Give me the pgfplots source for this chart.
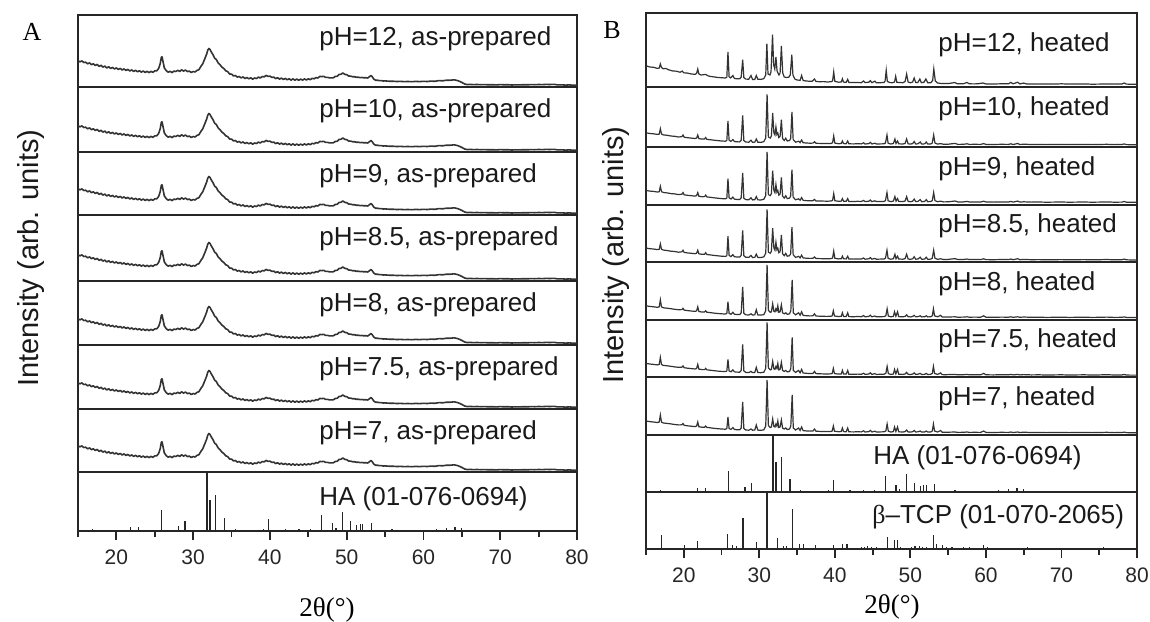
\documentclass[border=0pt]{standalone}
\usepackage{fontspec}
\setmainfont{Liberation Sans}
\newfontfamily\serif{Liberation Serif}
\usepackage{pgfplots}
\usepackage{pgfplotstable}
\pgfplotsset{compat=1.18}

% ---------- Panel A: as-prepared pattern (intensity in px above row bottom)
\pgfplotstableread[row sep=\\]{x y\\
15.00 26.3\\ 15.25 25.2\\ 15.50 26.1\\ 15.75 24.5\\ 16.00 24.8\\ 16.25 23.2\\ 16.50 24.1\\ 16.75 22.3\\
17.00 23.2\\ 17.25 21.5\\ 17.50 22.6\\ 17.75 20.6\\ 18.00 21.7\\ 18.25 19.9\\ 18.50 20.9\\ 18.75 19.1\\
19.00 20.2\\ 19.25 18.6\\ 19.50 19.6\\ 19.75 18.0\\ 20.00 19.1\\ 20.25 17.5\\ 20.50 18.6\\ 20.75 17.0\\
21.00 18.1\\ 21.25 16.6\\ 21.50 17.6\\ 21.75 16.0\\ 22.00 17.1\\ 22.25 15.6\\ 22.50 16.7\\ 22.75 15.2\\
23.00 16.3\\ 23.25 14.9\\ 23.50 16.0\\ 23.75 14.5\\ 24.00 15.7\\ 24.25 14.4\\ 24.50 15.6\\ 24.75 14.7\\
25.00 16.1\\ 25.25 16.1\\ 25.50 18.5\\ 25.70 23.0\\ 25.85 29.5\\ 25.95 30.2\\ 26.10 24.5\\ 26.25 19.0\\
26.50 16.3\\ 26.75 14.8\\ 27.00 15.7\\ 27.25 14.4\\ 27.50 15.9\\ 27.75 15.5\\ 28.00 16.7\\ 28.25 15.6\\
28.50 17.2\\ 28.75 15.9\\ 29.00 17.0\\ 29.25 15.4\\ 29.50 15.9\\ 29.75 14.5\\ 30.00 15.5\\ 30.25 15.0\\
30.50 16.6\\ 30.75 17.3\\ 31.00 20.5\\ 31.25 23.2\\ 31.50 27.9\\ 31.75 32.7\\ 31.90 36.8\\ 32.05 38.5\\
32.20 37.5\\ 32.40 34.6\\ 32.60 32.1\\ 32.80 28.8\\ 33.00 27.7\\ 33.25 24.2\\ 33.50 22.3\\ 33.75 19.9\\
34.00 18.5\\ 34.25 16.2\\ 34.50 15.4\\ 34.75 13.0\\ 35.00 12.9\\ 35.25 11.1\\ 35.50 11.5\\ 35.75 9.9\\
36.00 10.5\\ 36.25 9.1\\ 36.50 10.1\\ 36.75 8.5\\ 37.00 9.5\\ 37.25 8.2\\ 37.50 9.2\\ 37.75 7.8\\
38.00 9.0\\ 38.25 8.5\\ 38.50 9.9\\ 38.75 9.0\\ 39.00 10.5\\ 39.25 10.1\\ 39.50 11.6\\ 39.75 10.6\\
40.00 10.9\\ 40.25 9.6\\ 40.50 9.9\\ 40.75 8.4\\ 41.00 9.3\\ 41.25 7.9\\ 41.50 8.9\\ 41.75 7.5\\
42.00 8.6\\ 42.25 7.2\\ 42.50 8.3\\ 42.75 6.9\\ 43.00 8.1\\ 43.25 6.8\\ 43.50 8.0\\ 43.75 6.7\\
44.00 7.9\\ 44.25 6.9\\ 44.50 8.1\\ 44.75 7.0\\ 45.00 8.2\\ 45.25 7.3\\ 45.50 8.7\\ 45.75 8.2\\
46.00 9.4\\ 46.25 9.0\\ 46.50 10.6\\ 46.75 10.4\\ 47.00 10.7\\ 47.25 9.6\\ 47.50 9.7\\ 47.75 9.1\\
48.00 9.2\\ 48.25 9.2\\ 48.50 10.5\\ 48.75 10.7\\ 49.00 12.5\\ 49.25 12.7\\ 49.50 14.1\\ 49.75 12.6\\
50.00 12.4\\ 50.25 11.0\\ 50.50 10.9\\ 50.75 10.3\\ 51.00 10.3\\ 51.25 9.8\\ 51.50 9.8\\ 51.75 9.4\\
52.00 9.5\\ 52.25 9.2\\ 52.50 9.3\\ 52.75 9.0\\ 53.00 10.5\\ 53.15 11.4\\ 53.30 10.6\\ 53.50 8.2\\
53.75 6.8\\ 54.00 6.8\\ 54.25 6.4\\ 54.50 6.4\\ 54.75 6.0\\ 55.00 6.1\\ 55.50 5.8\\ 56.00 5.8\\
56.50 5.5\\ 57.00 5.6\\ 57.50 5.4\\ 58.00 5.5\\ 58.50 5.3\\ 59.00 5.6\\ 59.50 5.4\\ 60.00 5.7\\
60.50 5.5\\ 61.00 5.9\\ 61.50 5.7\\ 62.00 6.4\\ 62.50 6.2\\ 63.00 6.8\\ 63.50 6.8\\ 64.00 7.2\\
64.50 6.3\\ 65.00 4.6\\ 65.40 2.9\\ 65.75 2.4\\ 66.00 2.6\\ 66.50 2.4\\ 67.00 2.5\\ 67.50 2.3\\
68.00 2.4\\ 68.50 2.2\\ 69.00 2.3\\ 69.50 2.1\\ 70.00 2.4\\ 70.50 2.2\\ 71.00 2.3\\ 71.50 2.0\\
72.00 2.2\\ 72.50 2.1\\ 73.00 2.3\\ 73.50 2.2\\ 74.00 2.4\\ 74.50 2.3\\ 75.00 2.5\\ 75.50 2.4\\
76.00 2.6\\ 76.50 2.5\\ 77.00 2.7\\ 77.50 2.1\\ 78.00 2.2\\ 78.50 1.9\\ 79.00 2.1\\ 79.50 1.8\\ 80.00 1.9\\
}\tabA

% ---------- Panel B: pH=12 heated
\pgfplotstableread[row sep=\\]{x y\\
15.0 21.2\\ 15.5 20.0\\ 16.0 19.7\\ 16.5 18.6\\ 16.75 19.0\\ 16.9 23.0\\ 17.05 19.5\\ 17.3 18.2\\
17.6 18.6\\ 18.0 17.2\\ 18.5 16.1\\ 19.0 15.8\\ 19.5 14.8\\ 19.8 15.9\\ 20.0 14.2\\ 20.5 13.9\\
21.0 13.0\\ 21.5 12.7\\ 21.7 13.6\\ 21.85 18.0\\ 22.0 13.0\\ 22.3 12.0\\ 22.9 12.6\\ 23.2 11.2\\
23.5 10.6\\ 24.0 10.1\\ 24.5 9.5\\ 25.0 9.3\\ 25.5 9.0\\ 25.7 9.8\\ 25.85 35.0\\ 26.0 10.2\\
26.2 9.1\\ 26.5 11.5\\ 26.7 8.6\\ 27.0 8.2\\ 27.4 8.2\\ 27.6 10.0\\ 27.8 27.3\\ 27.95 9.5\\
28.2 7.9\\ 28.6 7.8\\ 28.9 11.5\\ 29.1 7.6\\ 29.4 7.6\\ 29.6 11.5\\ 29.8 7.8\\ 30.2 7.6\\
30.6 8.4\\ 30.85 12.0\\ 31.0 43.3\\ 31.15 13.0\\ 31.4 12.0\\ 31.55 15.0\\ 31.75 52.3\\ 31.9 22.0\\
32.05 18.0\\ 32.2 30.0\\ 32.35 16.0\\ 32.6 12.0\\ 32.75 14.0\\ 32.92 41.0\\ 33.1 14.0\\ 33.3 10.0\\
33.6 9.5\\ 33.9 9.8\\ 34.1 12.0\\ 34.3 32.3\\ 34.45 12.0\\ 34.7 8.0\\ 35.0 7.0\\ 35.4 6.7\\
35.6 11.5\\ 35.8 6.5\\ 36.2 6.0\\ 36.6 5.8\\ 37.0 5.7\\ 37.3 8.0\\ 37.5 5.5\\ 38.0 5.3\\
38.5 5.4\\ 39.0 5.0\\ 39.5 5.3\\ 39.7 6.0\\ 39.85 15.0\\ 40.0 5.6\\ 40.5 4.8\\ 40.85 5.0\\
41.0 8.2\\ 41.15 4.9\\ 41.5 4.7\\ 41.7 7.6\\ 41.85 4.6\\ 42.5 4.4\\ 43.0 4.5\\ 43.5 4.3\\
43.8 6.0\\ 44.0 4.4\\ 44.5 4.8\\ 44.7 6.3\\ 44.9 4.3\\ 45.3 5.8\\ 45.5 4.2\\ 46.0 4.3\\
46.5 4.5\\ 46.65 6.0\\ 46.8 16.7\\ 46.95 5.5\\ 47.3 4.4\\ 47.6 4.3\\ 47.9 5.0\\ 48.05 10.7\\
48.2 4.8\\ 48.5 4.5\\ 49.0 4.3\\ 49.3 5.5\\ 49.5 13.0\\ 49.7 5.0\\ 50.0 4.2\\ 50.3 5.0\\
50.5 9.0\\ 50.7 4.5\\ 51.0 4.6\\ 51.25 8.0\\ 51.45 4.3\\ 51.8 4.8\\ 52.05 8.0\\ 52.3 4.2\\
52.7 4.3\\ 52.95 6.5\\ 53.1 18.0\\ 53.3 6.0\\ 53.6 4.0\\ 54.0 3.6\\ 54.5 3.5\\ 55.0 3.4\\
55.9 4.5\\ 56.2 3.2\\ 57.0 3.3\\ 57.5 4.5\\ 57.8 3.2\\ 58.5 3.1\\ 59.0 3.3\\ 59.6 4.0\\
60.0 3.1\\ 61.0 3.0\\ 62.0 3.2\\ 63.0 3.3\\ 63.3 4.6\\ 63.6 3.2\\ 64.2 4.8\\ 64.5 3.1\\
65.0 3.9\\ 65.4 3.0\\ 66.0 3.1\\ 67.0 2.9\\ 68.0 3.0\\ 69.0 2.9\\ 70.0 3.2\\ 71.0 2.9\\
72.0 3.0\\ 73.0 3.1\\ 74.0 2.8\\ 75.0 2.9\\ 76.0 3.1\\ 77.0 2.9\\ 78.0 3.0\\ 78.3 4.0\\
78.6 2.9\\ 79.0 2.8\\ 80.0 2.7\\
}\tabBa

% ---------- Panel B: pH=10 / 9 / 8.5 heated
\pgfplotstableread[row sep=\\]{x y\\
15.0 14.2\\ 15.5 13.5\\ 16.0 13.2\\ 16.5 12.6\\ 16.75 12.9\\ 16.9 18.3\\ 17.05 13.0\\ 17.3 12.1\\
17.8 11.7\\ 18.3 11.0\\ 18.8 10.7\\ 19.3 10.0\\ 19.75 10.4\\ 19.9 12.0\\ 20.05 9.8\\ 20.5 9.3\\
21.0 8.9\\ 21.5 8.5\\ 21.7 9.0\\ 21.85 12.0\\ 22.0 8.4\\ 22.4 7.9\\ 22.75 8.0\\ 22.9 9.5\\
23.05 7.7\\ 23.5 7.3\\ 24.0 6.8\\ 24.5 6.4\\ 25.0 6.0\\ 25.5 5.8\\ 25.7 6.5\\ 25.85 26.0\\
26.0 6.8\\ 26.25 5.6\\ 26.5 7.5\\ 26.7 5.5\\ 27.0 5.2\\ 27.4 5.1\\ 27.6 6.8\\ 27.8 31.7\\
27.95 6.5\\ 28.2 5.0\\ 28.6 4.8\\ 28.9 6.8\\ 29.1 4.7\\ 29.4 4.9\\ 29.6 8.0\\ 29.8 4.8\\
30.2 4.6\\ 30.6 5.4\\ 30.85 9.0\\ 31.03 52.7\\ 31.2 10.0\\ 31.45 9.0\\ 31.6 11.0\\ 31.77 34.0\\
31.93 14.0\\ 32.07 12.0\\ 32.2 20.0\\ 32.33 12.5\\ 32.45 14.0\\ 32.58 9.5\\ 32.75 10.5\\ 32.92 27.3\\
33.08 8.5\\ 33.3 6.5\\ 33.5 8.8\\ 33.7 6.0\\ 34.0 6.5\\ 34.15 8.5\\ 34.32 35.0\\ 34.48 7.5\\
34.8 4.8\\ 35.2 5.8\\ 35.4 4.4\\ 35.6 7.0\\ 35.8 4.3\\ 36.2 4.0\\ 36.7 3.8\\ 37.1 3.9\\
37.3 5.2\\ 37.5 3.7\\ 38.0 3.6\\ 38.5 3.5\\ 39.0 3.4\\ 39.5 3.6\\ 39.7 4.2\\ 39.85 11.0\\
40.0 3.9\\ 40.5 3.3\\ 40.85 3.5\\ 41.0 6.0\\ 41.15 3.4\\ 41.5 3.3\\ 41.7 6.0\\ 41.85 3.2\\
42.5 3.1\\ 43.0 3.3\\ 43.5 3.1\\ 43.8 4.2\\ 44.0 3.0\\ 44.5 3.4\\ 44.7 4.6\\ 44.9 3.0\\
45.3 3.8\\ 45.5 3.0\\ 46.0 3.1\\ 46.5 3.2\\ 46.7 4.0\\ 46.9 12.0\\ 47.05 3.8\\ 47.4 3.0\\
47.75 3.5\\ 47.95 8.0\\ 48.1 3.5\\ 48.3 6.0\\ 48.45 3.2\\ 49.0 3.0\\ 49.3 3.6\\ 49.5 8.0\\
49.7 3.2\\ 50.0 2.9\\ 50.3 3.4\\ 50.5 5.5\\ 50.7 3.0\\ 51.0 3.2\\ 51.3 5.0\\ 51.5 2.9\\
51.9 3.2\\ 52.1 5.0\\ 52.3 2.9\\ 52.7 3.1\\ 52.9 4.0\\ 53.08 12.0\\ 53.25 4.0\\ 53.6 2.9\\
54.0 3.4\\ 54.4 2.7\\ 55.0 2.8\\ 55.9 3.6\\ 56.3 2.6\\ 57.0 2.7\\ 57.5 3.2\\ 57.8 2.6\\
58.5 2.7\\ 59.3 2.6\\ 59.7 3.4\\ 60.0 2.6\\ 61.0 2.5\\ 62.0 2.7\\ 63.0 2.6\\ 63.3 3.2\\
63.6 2.5\\ 64.2 3.5\\ 64.5 2.5\\ 65.0 2.8\\ 66.0 2.5\\ 67.0 2.6\\ 68.0 2.4\\ 69.0 2.5\\
70.0 2.6\\ 71.0 2.4\\ 72.0 2.5\\ 73.0 2.6\\ 74.0 2.4\\ 75.0 2.5\\ 76.0 2.7\\ 77.0 2.4\\
78.0 2.5\\ 78.3 3.1\\ 78.6 2.4\\ 79.0 2.3\\ 80.0 2.3\\
}\tabBb

% ---------- Panel B: pH=8 / 7.5 / 7 heated
\pgfplotstableread[row sep=\\]{x y\\
15.0 14.0\\ 15.5 13.4\\ 16.0 13.0\\ 16.5 12.5\\ 16.75 13.0\\ 16.9 20.0\\ 17.05 12.9\\ 17.3 12.0\\
17.8 11.6\\ 18.3 11.1\\ 18.8 10.5\\ 19.3 10.1\\ 19.75 10.2\\ 19.9 11.5\\ 20.05 9.7\\ 20.5 9.2\\
21.0 8.8\\ 21.5 8.4\\ 21.7 9.0\\ 21.85 13.0\\ 22.0 8.3\\ 22.4 7.8\\ 22.75 7.8\\ 22.9 9.0\\
23.05 7.6\\ 23.5 7.2\\ 24.0 6.7\\ 24.5 6.3\\ 25.0 6.0\\ 25.5 5.8\\ 25.7 6.4\\ 25.85 18.0\\
26.0 6.5\\ 26.25 5.6\\ 26.5 7.5\\ 26.7 5.6\\ 27.0 5.3\\ 27.4 5.2\\ 27.6 7.0\\ 27.8 33.0\\
27.95 6.6\\ 28.2 5.0\\ 28.6 4.8\\ 28.9 6.0\\ 29.1 4.8\\ 29.4 5.0\\ 29.6 10.0\\ 29.8 4.9\\
30.2 4.7\\ 30.6 5.2\\ 30.85 9.0\\ 31.03 55.0\\ 31.2 9.5\\ 31.45 7.5\\ 31.6 8.0\\ 31.77 16.0\\
31.93 8.5\\ 32.07 8.0\\ 32.2 11.0\\ 32.33 9.0\\ 32.45 14.0\\ 32.58 7.5\\ 32.75 8.0\\ 32.92 15.0\\
33.08 7.0\\ 33.3 6.0\\ 33.5 7.0\\ 33.7 5.5\\ 34.0 6.0\\ 34.17 9.0\\ 34.35 40.0\\ 34.5 7.0\\
34.8 5.0\\ 35.2 7.0\\ 35.4 4.6\\ 35.6 8.0\\ 35.8 4.4\\ 36.2 4.1\\ 36.7 3.9\\ 37.1 4.0\\
37.3 6.0\\ 37.5 3.8\\ 38.0 3.6\\ 38.5 3.5\\ 39.0 3.4\\ 39.5 3.6\\ 39.65 4.0\\ 39.8 9.0\\
39.95 3.8\\ 40.5 3.3\\ 40.85 3.5\\ 41.0 7.0\\ 41.15 3.4\\ 41.5 3.3\\ 41.7 7.0\\ 41.85 3.2\\
42.5 3.1\\ 43.0 3.3\\ 43.5 3.1\\ 43.8 4.2\\ 44.0 3.0\\ 44.5 3.4\\ 44.7 4.6\\ 44.9 3.0\\
45.3 3.8\\ 45.5 3.0\\ 46.0 3.1\\ 46.5 3.2\\ 46.75 4.0\\ 46.92 11.0\\ 47.08 3.8\\ 47.4 3.0\\
47.75 3.4\\ 47.9 8.0\\ 48.08 3.6\\ 48.3 8.0\\ 48.45 3.2\\ 49.0 3.0\\ 49.3 3.4\\ 49.5 5.0\\
49.7 3.1\\ 50.0 2.9\\ 50.3 3.3\\ 50.5 4.5\\ 50.7 3.0\\ 51.0 3.2\\ 51.3 4.0\\ 51.5 2.9\\
51.9 3.1\\ 52.1 4.0\\ 52.3 2.9\\ 52.7 3.1\\ 52.9 4.0\\ 53.05 11.0\\ 53.2 4.0\\ 53.6 3.0\\
54.0 4.5\\ 54.2 2.8\\ 54.6 2.7\\ 55.0 2.8\\ 55.9 3.0\\ 56.3 2.6\\ 57.0 2.7\\ 57.5 3.0\\
57.8 2.6\\ 58.5 2.7\\ 59.3 2.6\\ 59.7 4.0\\ 60.0 2.6\\ 61.0 2.5\\ 62.0 2.7\\ 63.0 2.6\\
63.3 3.0\\ 63.6 2.5\\ 64.2 3.0\\ 64.5 2.5\\ 65.0 2.8\\ 66.0 2.5\\ 67.0 2.6\\ 68.0 2.4\\
69.0 2.5\\ 70.0 2.6\\ 71.0 2.4\\ 72.0 2.5\\ 73.0 2.6\\ 74.0 2.4\\ 75.0 2.5\\ 76.0 2.7\\
77.0 2.4\\ 78.0 2.5\\ 78.3 2.9\\ 78.6 2.4\\ 79.0 2.3\\ 80.0 2.3\\
}\tabBc

% ---------- Reference sticks: HA (01-076-0694)
\pgfplotstableread[row sep=\\]{x y\\
16.9 2.4\\ 18.8 1.0\\ 21.8 4.0\\ 22.9 4.0\\ 25.4 1.5\\ 25.9 21.3\\ 28.1 5.0\\ 28.95 9.6\\
31.8 59\\ 32.2 31\\ 32.9 36\\ 34.05 13\\ 35.5 2\\ 39.2 2.5\\ 39.8 12\\ 42.0 2.5\\
43.8 2.5\\ 45.3 2\\ 46.7 16.5\\ 48.1 7.6\\ 48.6 3.4\\ 49.5 19\\ 50.5 9.6\\ 51.3 6.2\\
51.75 7\\ 52.1 7\\ 53.2 8\\ 55.9 2.4\\ 57.1 1.4\\ 58.1 1.5\\ 59.0 1.2\\ 60.0 1.5\\
61.7 2.4\\ 63.0 3.4\\ 64.0 4\\ 64.2 4\\ 65.0 3\\ 66.4 1\\ 69.7 1.4\\
}\tabHA

% ---------- Reference sticks: beta-TCP (01-070-2065)
\pgfplotstableread[row sep=\\]{x y\\
17.0 14.6\\ 18.9 1\\ 20.1 4\\ 21.8 8\\ 22.4 1\\ 24.0 1\\ 25.8 15.4\\ 26.4 4.6\\
27.0 3\\ 27.85 32.5\\ 28.6 1\\ 29.65 7.5\\ 30.3 1\\ 31.03 57.5\\ 32.45 11.8\\ 33.2 3.6\\
33.6 3.6\\ 34.4 41\\ 35.3 5\\ 35.8 5\\ 36.3 1.5\\ 37.4 4\\ 38.0 1.5\\ 39.0 1\\
39.8 4.6\\ 40.4 1.5\\ 41.0 5\\ 41.6 5\\ 42.3 1\\ 43.5 2.5\\ 43.9 2\\ 44.3 3\\
44.9 2.5\\ 45.5 2\\ 46.3 1\\ 47.0 12.9\\ 47.9 9\\ 48.3 9\\ 48.7 2\\ 49.4 1.5\\
50.1 2.5\\ 50.6 3\\ 51.2 3.5\\ 51.6 2\\ 52.1 2.5\\ 53.05 14.3\\ 53.5 5\\ 54.2 4\\
54.8 2\\ 55.5 2\\ 56.2 1.5\\ 57.0 2\\ 57.8 2\\ 58.5 1\\ 59.7 4\\ 60.2 2\\
60.8 1.5\\ 61.5 1\\ 62.4 1.5\\ 63.5 1.2\\ 64.5 1.5\\ 65.5 2\\ 66.6 1.5\\ 67.4 1\\
68.6 1.2\\ 69.3 1\\ 70.6 1.5\\ 71.4 1\\ 72.6 1.2\\ 73.6 1.5\\ 74.4 1\\ 75.6 1.8\\
76.5 1.2\\ 77.4 1\\ 78.6 1.3\\ 79.3 1\\
}\tabTCP

\pgfplotsset{
  row/.style={scale only axis, anchor=north west, xmin=15, xmax=80, ymin=0,
    xtick=\empty, ytick=\empty, axis line style={line width=1pt, black!85}},
  rowA/.style={row, width=249.5pt},
  rowB/.style={row, width=245.5pt},
  bottomrow/.style={xtick={20,30,...,80}, minor xtick={15,25,...,75},
    xtick pos=left, tick align=outside, major tick length=4.5pt, minor tick length=3pt,
    tick style={line width=0.9pt, black!85},
    /pgf/number format/assume math mode=true,
    xticklabel style={font=\fontsize{10.5}{12}\selectfont, yshift=-1.5pt, text=black!85}},
  xrdA/.style={black!80, line width=0.8pt, no marks, line join=round},
  xrd/.style={black!80, line width=0.6pt, no marks},
  stick/.style={ycomb, black!85, line width=0.6pt, no marks},
}

\begin{document}
\begin{tikzpicture}
\path[use as bounding box] (0,0) rectangle (575pt,-310.5pt);

% ================= Panel A =================
\begin{axis}[rowA, at={(39pt,-7.5pt)}, height=36pt, ymax=72]
\addplot[xrdA] table {\tabA};
\end{axis}
\begin{axis}[rowA, at={(39pt,-43.5pt)}, height=32.5pt, ymax=65]
\addplot[xrdA] table {\tabA};
\end{axis}
\begin{axis}[rowA, at={(39pt,-76pt)}, height=31.5pt, ymax=63]
\addplot[xrdA] table {\tabA};
\end{axis}
\begin{axis}[rowA, at={(39pt,-107.5pt)}, height=33pt, ymax=66]
\addplot[xrdA] table {\tabA};
\end{axis}
\begin{axis}[rowA, at={(39pt,-140.5pt)}, height=32pt, ymax=64]
\addplot[xrdA] table {\tabA};
\end{axis}
\begin{axis}[rowA, at={(39pt,-172.5pt)}, height=32pt, ymax=64]
\addplot[xrdA] table {\tabA};
\end{axis}
\begin{axis}[rowA, at={(39pt,-204.5pt)}, height=31.5pt, ymax=63]
\addplot[xrdA] table {\tabA};
\end{axis}
\begin{axis}[rowA, bottomrow, at={(39pt,-236pt)}, height=29.5pt, ymax=59]
\addplot[stick] table {\tabHA};
\end{axis}

% ================= Panel B =================
\begin{axis}[rowB, at={(323pt,-6.5pt)}, height=37pt, ymax=74]
\addplot[xrd] table {\tabBa};
\end{axis}
\begin{axis}[rowB, at={(323pt,-43.5pt)}, height=30pt, ymax=60]
\addplot[xrd] table {\tabBb};
\end{axis}
\begin{axis}[rowB, at={(323pt,-73.5pt)}, height=28.8pt, ymax=57.6]
\addplot[xrd] table {\tabBb};
\end{axis}
\begin{axis}[rowB, at={(323pt,-102.3pt)}, height=28.8pt, ymax=57.6]
\addplot[xrd] table {\tabBb};
\end{axis}
\begin{axis}[rowB, at={(323pt,-131.1pt)}, height=28.8pt, ymax=57.6]
\addplot[xrd] table {\tabBc};
\end{axis}
\begin{axis}[rowB, at={(323pt,-159.9pt)}, height=28.8pt, ymax=57.6]
\addplot[xrd] table {\tabBc};
\end{axis}
\begin{axis}[rowB, at={(323pt,-188.7pt)}, height=28.8pt, ymax=57.6]
\addplot[xrd] table {\tabBc};
\end{axis}
\begin{axis}[rowB, at={(323pt,-217.5pt)}, height=28.5pt, ymax=59]
\addplot[stick] table {\tabHA};
\end{axis}
\begin{axis}[rowB, bottomrow, at={(323pt,-246pt)}, height=28.5pt, ymax=59]
\addplot[stick] table {\tabTCP};
\end{axis}

% ================= Labels =================
\begin{scope}[every node/.style={anchor=base west, inner sep=0pt, font=\fontsize{13}{15}\selectfont, text=black!90}]
\node at (159.5pt,-22.5pt) {pH=12, as-prepared};
\node at (159.5pt,-58.5pt) {pH=10, as-prepared};
\node at (159.5pt,-91pt) {pH=9, as-prepared};
\node at (159.5pt,-122.5pt) {pH=8.5, as-prepared};
\node at (159.5pt,-155.5pt) {pH=8, as-prepared};
\node at (159.5pt,-187.5pt) {pH=7.5, as-prepared};
\node at (159.5pt,-219.5pt) {pH=7, as-prepared};
\node at (159.5pt,-252.5pt) {HA (01-076-0694)};
\node at (469pt,-25.85pt) {pH=12, heated};
\node at (469pt,-57.5pt) {pH=10, heated};
\node at (469pt,-87.5pt) {pH=9, heated};
\node at (469pt,-116.3pt) {pH=8.5, heated};
\node at (469pt,-145.1pt) {pH=8, heated};
\node at (469pt,-173.9pt) {pH=7.5, heated};
\node at (469pt,-202.7pt) {pH=7, heated};
\node at (436.5pt,-232pt) {HA (01-076-0694)};
\node at (436pt,-261.5pt) {{\serif β}–TCP (01-070-2065)};
\end{scope}

\node[font=\serif\fontsize{13}{15}\selectfont] at (16pt,-16pt) {A};
\node[font=\serif\fontsize{13}{15}\selectfont] at (306pt,-15pt) {B};
\node[rotate=90, font=\fontsize{14.5}{16}\selectfont, text=black!90] at (15.5pt,-129pt) {Intensity (arb. units)};
\node[rotate=90, font=\fontsize{14.5}{16}\selectfont, text=black!90] at (308pt,-127.5pt) {Intensity (arb. units)};
\node[font=\serif\fontsize{13.5}{15}\selectfont] at (163.5pt,-305pt) {2θ(°)};
\node[font=\serif\fontsize{13.5}{15}\selectfont] at (446pt,-303.5pt) {2θ(°)};
\end{tikzpicture}
\end{document}
